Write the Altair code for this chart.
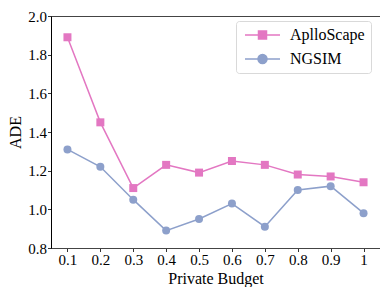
import altair as alt
import pandas as pd

budgets = ["0.1", "0.2", "0.3", "0.4", "0.5", "0.6", "0.7", "0.8", "0.9", "1"]
series_names = ["AplloScape", "NGSIM"]
apollo = [1.89, 1.45, 1.11, 1.23, 1.19, 1.25, 1.23, 1.18, 1.17, 1.14]
ngsim = [1.31, 1.22, 1.05, 0.89, 0.95, 1.03, 0.91, 1.10, 1.12, 0.98]
colors = ["#e377c2", "#8da0cb"]
shapes = ["square", "circle"]
y_ticks = [0.8, 1.0, 1.2, 1.4, 1.6, 1.8, 2.0]

df = pd.DataFrame({
    "budget": budgets + budgets,
    "ade": apollo + ngsim,
    "series": [series_names[0]] * len(budgets) + [series_names[1]] * len(budgets),
})

FONT = "Liberation Serif"

sq_path = "M-1,0L6,0M1.7,-0.8L3.3,-0.8L3.3,0.8L1.7,0.8Z"
circ_path = "M-1,0L6,0M3.4,0A0.9,0.9,0,1,1,1.6,0A0.9,0.9,0,1,1,3.4,0Z"

legend = alt.Legend(
    title=None,
    orient="none",
    legendX=185,
    legendY=5,
    padding=6,
    columnPadding=0,
    strokeColor="#d9d9d9",
    cornerRadius=3,
    fillColor="white",
    labelFont=FONT,
    labelFontSize=16,
    labelColor="black",
    labelOffset=32,
    symbolSize=100,
    symbolStrokeWidth=1.5,
    rowPadding=8,
    symbolType=alt.ExprRef(expr=f"datum.value === '{series_names[0]}' ? '{sq_path}' : '{circ_path}'"),
    symbolFillColor=alt.ExprRef(expr="scale('color', datum.value)"),
)

x_enc = alt.X("budget:O", sort=budgets, title="Private Budget",
              scale=alt.Scale(type="point", padding=0.5),
              axis=alt.Axis(labelAngle=0, domainColor="#444",
                            titleY=35, titleBaseline="alphabetic"))
y_enc = alt.Y("ade:Q", title="ADE",
              scale=alt.Scale(domain=[0.8, 2.0], nice=False, zero=False),
              axis=alt.Axis(values=y_ticks, format=".1f", domainColor="black",
                            titleX=-31, titleBaseline="alphabetic"))
color_enc = alt.Color("series:N", sort=series_names,
                      scale=alt.Scale(domain=series_names, range=colors),
                      legend=legend)

lines = alt.Chart(df).mark_line(strokeWidth=1.5).encode(
    x=x_enc, y=y_enc, color=color_enc, detail="series:N"
)
layers = [lines]
for name, col, shp in zip(series_names, colors, shapes):
    layers.append(
        alt.Chart(df).transform_filter(alt.datum.series == name)
        .mark_point(filled=True, size=64, opacity=1, color=col, shape=shp)
        .encode(x=x_enc, y=y_enc)
    )

chart = alt.layer(*layers).properties(
    width=329, height=232,
    autosize=alt.AutoSizeParams(type="none"),
    padding={"left": 43, "top": 8, "right": 0, "bottom": 39},
).configure_view(
    stroke="#444", strokeWidth=1
).configure_axis(
    grid=False,
    labelFont=FONT, labelFontSize=15, labelColor="black",
    titleFont=FONT, titleFontSize=16, titleFontWeight="normal", titleColor="black",
    tickColor="black", tickSize=3.5, tickWidth=0.8,
    labelPadding=1,
)

chart.save("out.html", embed_options={"renderer": "svg", "actions": False})
